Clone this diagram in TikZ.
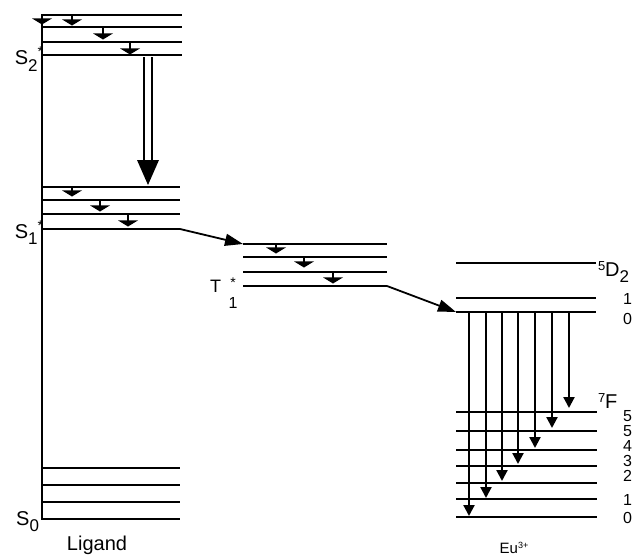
\documentclass[tikz,border=0pt]{standalone}
\usepackage{fontspec}
\setmainfont{Liberation Sans}
\usetikzlibrary{arrows.meta}
\newcommand\dmark[3]{% x, ytop, ybar
  \draw[line width=1.7pt] (#1,#2) -- (#1,#3+2);
  \fill (#1-10,#3-1.6) -- (#1+10,#3-1.6) -- (#1,#3+4.5) -- cycle;}
\newcommand\bigS{\fontsize{20}{20}\selectfont}
\newcommand\subS{\fontsize{17}{17}\selectfont}
\newcommand\starS{\fontsize{14}{14}\selectfont}
\begin{document}
\begin{tikzpicture}[x=1pt,y=-1pt,
  level/.style={line width=2pt},
  lab/.style={inner sep=0pt, outer sep=0pt},
  num/.style={font=\fontsize{16}{16}\selectfont, inner sep=0pt, anchor=west},
  emit/.style={line width=2.2pt, -{Triangle[length=11pt,width=11pt]}},
  transfer/.style={line width=1.8pt, -{Triangle[length=18pt,width=12pt]}}]
\useasboundingbox (0,0) rectangle (638,555);

% ---------------- Ligand ----------------
\draw[line width=2.4pt] (42,14) -- (42,520);
\foreach \y in {15,27,42,55} \draw[level] (42,\y) -- (182,\y);
\foreach \y in {187,200,214} \draw[level] (42,\y) -- (180,\y);
\draw[level] (42,229) -- (180,229) coordinate (s1end);
\foreach \y in {468,485,502,519} \draw[level] (42,\y) -- (180,\y);

\dmark{42}{15}{20}
\dmark{72}{15}{21}
\dmark{103}{27}{35}
\dmark{130}{42}{50}
\dmark{72}{187}{192}
\dmark{100}{200}{207}
\dmark{128}{214}{222}

% S2 -> S1 internal conversion (hollow double arrow)
\draw[line width=1.4pt] (144,57) -- (144,164) (152,57) -- (152,164);
\fill (137,160) -- (159,160) -- (148,185) -- cycle;

\node[lab, anchor=base east] (s2) at (43,64) {\bigS S\raisebox{-7pt}{\subS 2}\raisebox{8pt}{\starS *}};
\node[lab, anchor=base east] (s1) at (43,238) {\bigS S\raisebox{-6pt}{\subS 1}\raisebox{8pt}{\starS *}};
\node[lab, anchor=base east] (s0) at (39,525) {\bigS S\raisebox{-6pt}{\subS 0}};
\node[lab, anchor=base, font=\fontsize{20}{20}\selectfont] (lig) at (97,550) {Ligand};

% ---------------- Triplet ----------------
\draw[level] (243,244) coordinate (t1top) -- (387,244);
\foreach \y in {257,272} \draw[level] (243,\y) -- (387,\y);
\draw[level] (243,286) -- (387,286) coordinate (t1end);
\dmark{276}{244}{249}
\dmark{304}{257}{263}
\dmark{333}{272}{279}
\node[lab, anchor=base west] (t1) at (210,292) {\fontsize{18}{18}\selectfont T};
\node[lab, anchor=base] (t1s) at (233,287) {\starS *};
\node[lab, anchor=base] (t1n) at (233,308) {\fontsize{16}{16}\selectfont 1};

\draw[transfer] (s1end) -- (t1top);

% ---------------- Eu3+ ----------------
\draw[level] (456,263) -- (596,263);
\draw[level] (456,298) -- (596,298);
\draw[level] (456,312) coordinate (d0) -- (596,312);
\foreach \y in {412,431,450,466,483,499,517} \draw[level] (456,\y) -- (597,\y);

\draw[transfer] (t1end) -- (d0);

\foreach \x/\t in {469/516,486/498,502/481,518/464,535/448,552/428,569/408}
  \draw[emit] (\x,313) -- (\x,\t);

\node[lab, anchor=base west] (d2) at (598,276) {\raisebox{6pt}{\fontsize{13}{13}\selectfont 5}\bigS D\raisebox{-6pt}{\subS 2}};
\node[num] (d1l) at (623,299) {1};
\node[num] (d0l) at (623,319) {0};

\node[lab, anchor=base west] (f) at (598,408) {\raisebox{6pt}{\fontsize{13}{13}\selectfont 7}\bigS F};
\node[num] (f6) at (623,416) {5};
\node[num] (f5) at (623,431) {5};
\node[num] (f4) at (623,446) {4};
\node[num] (f3) at (623,461) {3};
\node[num] (f2) at (623,476) {2};
\node[num] (f1) at (623,500) {1};
\node[num] (f0) at (623,518) {0};

\node[lab, anchor=base] (eu) at (514,553) {\fontsize{15}{15}\selectfont Eu\raisebox{5pt}{\fontsize{9}{9}\selectfont 3+}};
\end{tikzpicture}
\end{document}
